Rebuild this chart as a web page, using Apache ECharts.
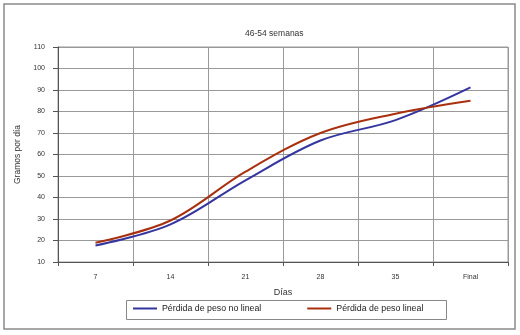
<!DOCTYPE html>
<html>
<head>
<meta charset="utf-8">
<script src="https://cdn.jsdelivr.net/npm/echarts@6/dist/echarts.min.js"></script>
<style>html,body{margin:0;padding:0;background:#fff}#c{width:520px;height:335px}</style>
</head>
<body>
<div id="c"></div>
<script>
var categories = ['7', '14', '21', '28', '35', 'Final'];
var noLineal = [17.7, 27.5, 48, 66.5, 76, 91.2];
var lineal = [19, 29.3, 52, 70, 79, 85];
var seriesNames = ['Pérdida de peso no lineal', 'Pérdida de peso lineal'];

var chart = echarts.init(document.getElementById('c'), null, {renderer: 'canvas'});
var font = 'Liberation Sans, Arial, sans-serif';
chart.setOption({
  animation: false,
  backgroundColor: '#fff',
  title: {
    text: '46-54 semanas', left: 240, top: 24,
    textStyle: {fontFamily: font, fontSize: 8.5, fontWeight: 'normal', color: '#333'}
  },
  grid: {left: 58, right: 12, top: 47, bottom: 73, show: true, borderColor: '#999', borderWidth: 1},
  legend: {
    left: 133, top: 304, padding: 0, itemGap: 46, itemWidth: 24, itemHeight: 2,
    icon: 'rect', selectedMode: false,
    textStyle: {fontFamily: font, fontSize: 8.8, color: '#222'},
    data: seriesNames
  },
  xAxis: {
    type: 'category', data: categories, boundaryGap: true,
    name: 'Días', nameLocation: 'middle', nameGap: 26,
    nameTextStyle: {fontFamily: font, fontSize: 9, color: '#333'},
    axisLine: {lineStyle: {color: '#555', width: 1}},
    axisTick: {show: true, length: 4, interval: 0, lineStyle: {color: '#555'}},
    axisLabel: {fontFamily: font, fontSize: 7, color: '#333', margin: 12, interval: 0},
    splitLine: {show: true, interval: 0, lineStyle: {color: '#999', width: 1}}
  },
  yAxis: {
    type: 'value', min: 10, max: 110, interval: 10,
    name: 'Gramos por día', nameLocation: 'middle', nameGap: 35,
    nameTextStyle: {fontFamily: font, fontSize: 8.5, color: '#333'},
    axisLine: {show: true, lineStyle: {color: '#555', width: 1}},
    axisTick: {show: true, length: 5, lineStyle: {color: '#555'}},
    axisLabel: {fontFamily: font, fontSize: 7, color: '#333', margin: 13},
    splitLine: {show: true, lineStyle: {color: '#999', width: 1}}
  },
  graphic: [
    {type: 'rect', shape: {x: 4, y: 4, width: 511, height: 325}, style: {fill: 'none', stroke: '#8a8a8a', lineWidth: 1.5}, silent: true},
    {type: 'rect', shape: {x: 126.5, y: 300.5, width: 320, height: 19}, style: {fill: 'none', stroke: '#888', lineWidth: 1}, silent: true}
  ],
  series: [
    {name: seriesNames[0], type: 'line', data: noLineal, smooth: 0.35, showSymbol: false,
     lineStyle: {color: '#35359f', width: 2}, itemStyle: {color: '#35359f'}},
    {name: seriesNames[1], type: 'line', data: lineal, smooth: 0.35, showSymbol: false,
     lineStyle: {color: '#a8300f', width: 2}, itemStyle: {color: '#a8300f'}}
  ]
});
</script>
</body>
</html>
